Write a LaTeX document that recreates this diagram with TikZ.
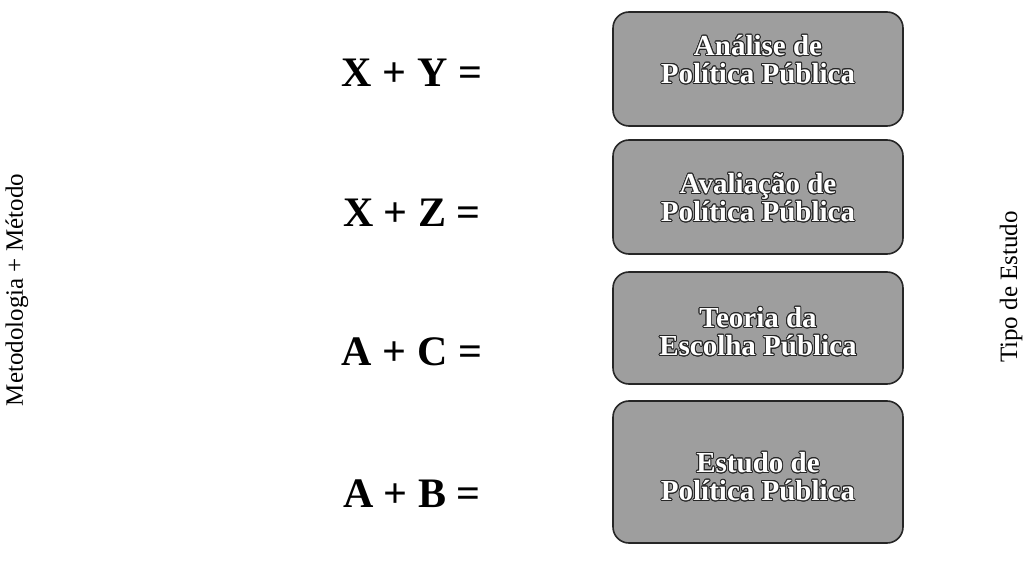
\documentclass[tikz,border=0pt]{standalone}
\usepackage{fontspec}
\setmainfont{Liberation Serif}
\usepackage{contour}
\contourlength{0.9pt}
\newcommand{\wtxt}[1]{\contour{black!85}{#1}}
\begin{document}
\begin{tikzpicture}[x=1pt,y=-1pt,
  eqn/.style={font=\fontsize{42}{46}\selectfont\bfseries, anchor=center, inner sep=0pt},
  sidelbl/.style={font=\fontsize{25}{27}\selectfont, rotate=90, anchor=center, inner sep=0pt},
  studybox/.style={draw=black!85, line width=1.6pt, fill=black!38, rounded corners=16pt, minimum width=290pt, inner sep=0pt},
  boxtxt/.style={font=\fontsize{29}{28}\selectfont\bfseries, align=center, inner sep=0pt, text=white}
]
\useasboundingbox (0,0) rectangle (1029,564);
% side labels
\node[sidelbl] (left) at (17,290) {Metodologia + Método};
\node[sidelbl] (right) at (1011,287) {Tipo de Estudo};
% equations
\node[eqn] (e1) at (412,73) {X + Y =};
\node[eqn] (e2) at (412,213) {X + Z =};
\node[eqn] (e3) at (412,352) {A + C =};
\node[eqn] (e4) at (412,494) {A + B =};
% boxes
\node[studybox, minimum height=114pt] (b1) at (758,69) {};
\node[studybox, minimum height=114pt] (b2) at (758,197) {};
\node[studybox, minimum height=112pt] (b3) at (758,328) {};
\node[studybox, minimum height=142pt] (b4) at (758,472) {};
% box texts, white with dark outline
\node[boxtxt] (b1t) at ([shift={(0,-9)}]b1.center) {\wtxt{Análise de}\\\wtxt{Política Pública}};
\node[boxtxt] (b2t) at ([shift={(0,1)}]b2.center) {\wtxt{Avaliação de}\\\wtxt{Política Pública}};
\node[boxtxt] (b3t) at ([shift={(0,4)}]b3.center) {\wtxt{Teoria da}\\\wtxt{Escolha Pública}};
\node[boxtxt] (b4t) at ([shift={(0,5)}]b4.center) {\wtxt{Estudo de}\\\wtxt{Política Pública}};
\end{tikzpicture}
\end{document}
